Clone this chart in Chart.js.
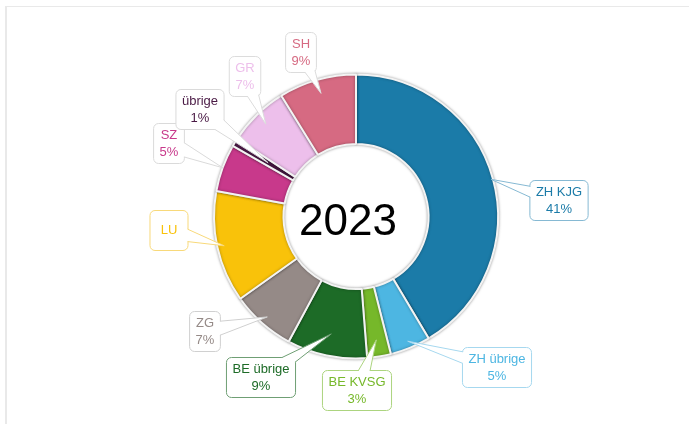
<!DOCTYPE html>
<html>
<head>
<meta charset="utf-8">
<script src="https://cdn.jsdelivr.net/npm/chart.js@4.4.0/dist/chart.umd.min.js"></script>
<style>
  body { margin: 0; background: #fff; }
  #wrap { position: relative; width: 689px; height: 424px; }
  #frame { position: absolute; left: 5px; top: 6px; right: 0; bottom: 0;
           border-left: 2px solid #e9e9e9; border-top: 1px solid #e9e9e9; }
</style>
</head>
<body>
<div id="wrap">
  <div id="frame"></div>
  <canvas id="donut"></canvas>
</div>
<script>
// data (share in %, clockwise from the top)
const categories = ["ZH KJG", "ZH übrige", "BE KVSG", "BE übrige", "ZG", "LU", "SZ", "übrige", "GR", "SH"];
const shares = [41.4, 4.6, 2.7, 9.1, 7.3, 12.7, 5.4, 0.9, 7.0, 8.8];
const hidePercent = ["LU"];
const centerTitle = "2023";

// styling
const segColors = ["#1b7ba8", "#4db6e2", "#76b82a", "#1d6b27", "#958a87", "#f9c20a", "#c8398b", "#4a1a45", "#edbfeb", "#d66a82"];
const boxBorders = ["#86b9d3", "#a6d8ef", "#acd47f", "#6f9f74", "#d0d0d0", "#f8d97a", "#dadada", "#dadada", "#dcdcdc", "#dcdcdc"];
// label box centre offsets from the ring centre, and how deep the pointer goes
const boxOffsets = [[203, -16], [141, 151], [1, 174], [-95, 161], [-151, 115], [-187, 14], [-187, -73], [-156, -107], [-111, -140], [-55, -164]];
const tipRadius = [140, 135, 125, 120, 134, 135, 142, 103, 129, 128];

function roundRect(ctx, x, y, w, h, r) {
    ctx.moveTo(x + r, y);
    ctx.arcTo(x + w, y, x + w, y + h, r);
    ctx.arcTo(x + w, y + h, x, y + h, r);
    ctx.arcTo(x, y + h, x, y, r);
    ctx.arcTo(x, y, x + w, y, r);
    ctx.closePath();
}

const ringShadow = {
    id: 'ringShadow',
    beforeDatasetsDraw(chart) {
        const ctx = chart.ctx;
        ctx.save();
        ctx.shadowColor = 'rgba(0,0,0,0.35)';
        ctx.shadowBlur = 3;
    },
    afterDatasetsDraw(chart) {
        chart.ctx.restore();
    }
};

const calloutLabels = {
    id: 'calloutLabels',
    afterDraw(chart) {
        const ctx = chart.ctx;
        const meta = chart.getDatasetMeta(0);
        const cx = meta.data[0].x, cy = meta.data[0].y;

        // year in the hole
        ctx.save();
        ctx.fillStyle = '#000';
        ctx.font = '44px "Liberation Sans", Arial, sans-serif';
        ctx.textAlign = 'center';
        ctx.textBaseline = 'middle';
        ctx.fillText(centerTitle, cx - 8, cy + 6);
        ctx.restore();

        ctx.font = '13px "Liberation Sans", Arial, sans-serif';
        meta.data.forEach(function (arc, i) {
            const name = categories[i];
            const pct = Math.round(shares[i]) + '%';
            const showPct = hidePercent.indexOf(name) < 0;
            const w = Math.max(ctx.measureText(name).width, ctx.measureText(pct).width) + 12;
            const h = 40;
            const bx = cx + boxOffsets[i][0], by = cy + boxOffsets[i][1];
            const x0 = bx - w / 2, y0 = by - h / 2;

            const mid = (arc.startAngle + arc.endAngle) / 2;
            const tx = cx + Math.cos(mid) * tipRadius[i];
            const ty = cy + Math.sin(mid) * tipRadius[i];
            let dx = tx - bx, dy = ty - by;
            const len = Math.sqrt(dx * dx + dy * dy);
            const px = -dy / len * 9, py = dx / len * 9;

            ctx.save();
            ctx.lineWidth = 1;
            ctx.strokeStyle = boxBorders[i];
            ctx.fillStyle = '#fff';
            ctx.beginPath();
            roundRect(ctx, x0, y0, w, h, 5);
            ctx.fill();
            ctx.stroke();

            // pointer body
            ctx.beginPath();
            ctx.moveTo(bx + px, by + py);
            ctx.lineTo(tx, ty);
            ctx.lineTo(bx - px, by - py);
            ctx.closePath();
            ctx.fill();

            // pointer legs, only outside the box
            ctx.beginPath();
            ctx.rect(0, 0, chart.width, chart.height);
            roundRect(ctx, x0 + 0.5, y0 + 0.5, w - 1, h - 1, 5);
            ctx.clip('evenodd');
            ctx.beginPath();
            ctx.moveTo(bx + px, by + py);
            ctx.lineTo(tx, ty);
            ctx.lineTo(bx - px, by - py);
            ctx.stroke();
            ctx.restore();

            ctx.save();
            ctx.fillStyle = segColors[i];
            ctx.textAlign = 'center';
            ctx.textBaseline = 'middle';
            if (showPct) {
                ctx.fillText(name, bx, by - 8);
                ctx.fillText(pct, bx, by + 9);
            } else {
                ctx.fillText(name, bx, by);
            }
            ctx.restore();
        });
    }
};

const ctx = document.getElementById('donut').getContext('2d');
const myChart = new Chart(ctx, {
    type: 'doughnut',
    data: {
        labels: categories,
        datasets: [{
            data: shares,
            backgroundColor: segColors,
            borderColor: '#f3f3f3',
            borderWidth: 2
        }]
    },
    options: {
        responsive: true,
        maintainAspectRatio: false,
        animation: false,
        radius: 142,
        cutout: 72,
        layout: {
            padding: { left: 214, right: 191, top: 74, bottom: 65 }
        },
        events: [],
        plugins: {
            legend: { display: false },
            tooltip: { enabled: false }
        }
    },
    plugins: [ringShadow, calloutLabels]
});
</script>
</body>
</html>
